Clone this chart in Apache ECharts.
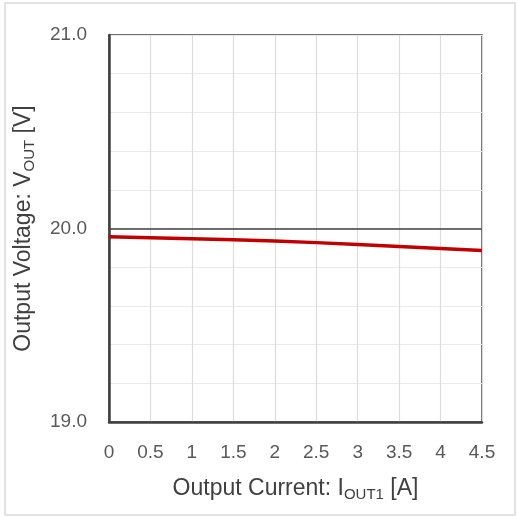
<!DOCTYPE html>
<html><head><meta charset="utf-8">
<script src="https://cdn.jsdelivr.net/npm/echarts@6/dist/echarts.min.js"></script>
<style>html,body{margin:0;padding:0;background:#fff}#c{width:517px;height:518px}</style>
</head><body><div id="c"></div>
<script>
const currents = [0, 0.5, 1, 1.5, 2, 2.5, 3, 3.5, 4, 4.5];
const voltages = [19.957, 19.952, 19.947, 19.942, 19.935, 19.927, 19.917, 19.907, 19.897, 19.886];
const refVoltage = 20.0;
const yMajorLabels = [19.0, 20.0, 21.0];

const font = 'Liberation Sans';
const chart = echarts.init(document.getElementById('c'), null, {renderer: 'canvas'});
chart.setOption({
  animation: false,
  backgroundColor: '#fff',
  graphic: [{type: 'rect', shape: {x: 5, y: 3, width: 510, height: 512}, style: {fill: 'none', stroke: '#d9d9d9', lineWidth: 1.5}, silent: true}],
  grid: {left: 109, right: 35, top: 35, bottom: 96, show: true, borderColor: '#404040', borderWidth: 1.5, backgroundColor: 'transparent'},
  xAxis: {
    type: 'value', min: 0, max: 4.5, interval: 0.5,
    axisLine: {show: true, onZero: false, lineStyle: {color: '#404040', width: 2.5}},
    axisTick: {show: false},
    splitLine: {show: true, lineStyle: {color: '#dcdcdc', width: 1.2}},
    axisLabel: {margin: 21, color: '#595959', fontSize: 19, fontFamily: font, formatter: v => String(v)},
    name: 'Output Current: I{sub|OUT1} [A]', nameLocation: 'middle', nameGap: 54,
    nameTextStyle: {color: '#404040', fontSize: 23, fontFamily: font,
      rich: {sub: {fontSize: 15, fontFamily: font, color: '#404040', padding: [11, 0, 0, 0]}}}
  },
  yAxis: {
    type: 'value', min: 19, max: 21, interval: 0.2,
    axisLine: {show: true, onZero: false, lineStyle: {color: '#404040', width: 2.5}},
    axisTick: {show: false},
    splitLine: {show: true, lineStyle: {color: '#eaeaea', width: 1.2}},
    axisLabel: {margin: 22, color: '#595959', fontSize: 19, fontFamily: font,
      formatter: v => yMajorLabels.some(m => Math.abs(m - v) < 1e-6) ? v.toFixed(1) : ''},
    name: 'Output Voltage: V{sub|OUT} [V]', nameLocation: 'middle', nameGap: 72,
    nameTextStyle: {color: '#404040', fontSize: 23, fontFamily: font,
      rich: {sub: {fontSize: 15, fontFamily: font, color: '#404040', padding: [11, 0, 0, 0]}}}
  },
  series: [{
    type: 'line', data: currents.map((x, i) => [x, voltages[i]]),
    showSymbol: false, smooth: false,
    lineStyle: {color: '#c00000', width: 3.5},
    markLine: {silent: true, symbol: 'none', label: {show: false},
      lineStyle: {color: '#404040', width: 1.5, type: 'solid'},
      data: [{yAxis: refVoltage}]},
    z: 5
  }]
});
</script></body></html>
